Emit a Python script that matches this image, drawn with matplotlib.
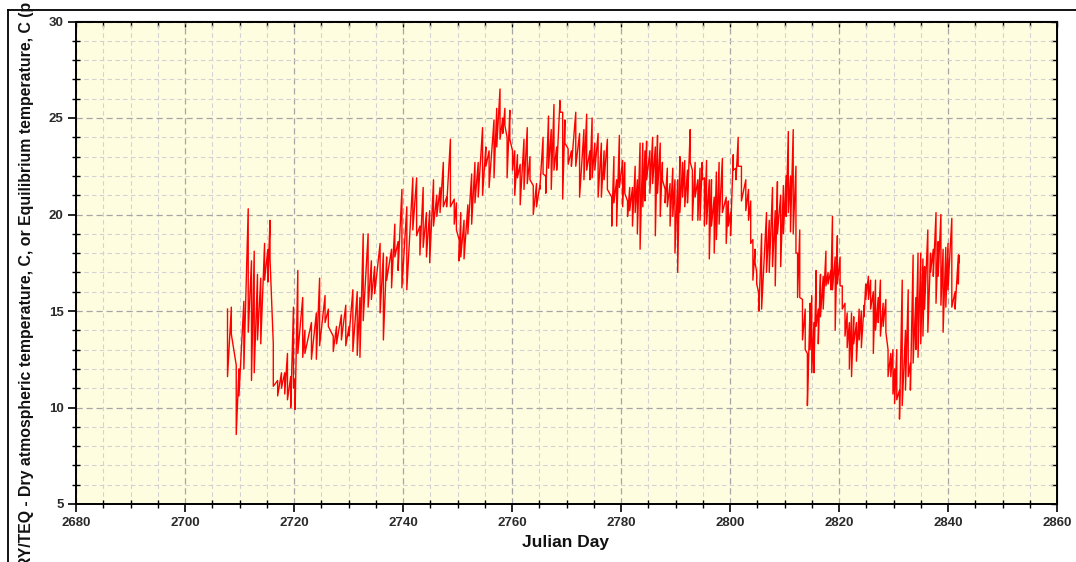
import numpy as np
import matplotlib
matplotlib.use('Agg')
import matplotlib.pyplot as plt
from matplotlib.ticker import MultipleLocator
from matplotlib.lines import Line2D

# readings: day, upper and lower end of each vertical stroke
day = [2707.8, 2708.5, 2709.4, 2709.9, 2710.8, 2711.6, 2712.2, 2712.7, 2713.3, 2713.9,
       2714.6, 2715.2, 2715.6, 2716.2, 2717.0, 2717.7, 2718.3, 2718.8, 2719.4, 2719.9,
       2720.2, 2720.7, 2721.6, 2722.0, 2723.2, 2724.1, 2724.7, 2725.7, 2726.3, 2727.2,
       2727.8, 2728.7, 2729.5, 2730.1, 2730.8, 2731.6, 2732.1, 2732.7, 2733.6, 2734.2,
       2734.8, 2735.8, 2736.4, 2737.0, 2737.9, 2738.5, 2739.1, 2739.8, 2740.7, 2741.8,
       2742.5, 2743.1, 2743.7, 2744.3, 2744.9, 2745.6, 2746.2, 2746.8, 2747.4, 2748.0,
       2748.7, 2749.4, 2749.8, 2750.3, 2750.6, 2751.2, 2751.9, 2752.6, 2753.2, 2753.8,
       2754.6, 2755.2, 2755.8, 2756.7, 2757.2, 2757.8, 2758.3, 2758.7, 2759.1, 2759.6,
       2760.1, 2760.5, 2761.0, 2761.5, 2762.2, 2762.8, 2763.3, 2763.9, 2764.5, 2765.1,
       2765.7, 2766.2, 2766.7, 2767.2, 2767.7, 2768.2, 2768.8, 2769.3, 2769.7, 2770.3,
       2770.9, 2771.7, 2772.4, 2773.2, 2773.7, 2774.3, 2774.7, 2775.2, 2775.8, 2776.4,
       2776.9, 2777.5, 2778.3, 2778.7, 2779.2, 2779.7, 2780.3, 2780.7, 2781.2, 2781.6,
       2782.1, 2782.6, 2783.0, 2783.5, 2784.0, 2784.4, 2784.7, 2785.3, 2785.8, 2786.3,
       2786.7, 2787.2, 2787.6, 2788.1, 2788.5, 2789.0, 2789.5, 2789.9, 2790.4, 2790.8,
       2791.3, 2791.7, 2792.2, 2792.7, 2793.1, 2793.6, 2794.1, 2794.5, 2794.9, 2795.3,
       2795.7, 2796.2, 2796.6, 2797.1, 2797.5, 2798.0, 2798.6, 2799.3, 2799.7, 2800.1,
       2800.6, 2801.1, 2801.5, 2802.1, 2802.9, 2803.4, 2803.8, 2804.2, 2804.6, 2804.9,
       2805.3, 2805.8, 2806.7, 2807.2, 2807.8, 2808.3, 2808.7, 2809.3, 2809.8, 2810.3,
       2810.7, 2811.1, 2811.6, 2812.1, 2812.4, 2812.8, 2813.3, 2813.8, 2814.2, 2814.7,
       2815.0, 2815.4, 2815.8, 2816.2, 2816.6, 2817.1, 2817.6, 2818.0, 2818.5, 2818.8,
       2819.3, 2819.7, 2820.2, 2820.6, 2821.1, 2821.5, 2821.9, 2822.3, 2822.7, 2823.2,
       2823.7, 2824.1, 2824.6, 2824.9, 2825.4, 2825.8, 2826.3, 2826.7, 2827.2, 2827.6,
       2828.1, 2828.6, 2829.0, 2829.5, 2829.9, 2830.2, 2830.6, 2831.1, 2831.6, 2832.2,
       2832.7, 2833.1, 2833.6, 2834.1, 2834.5, 2835.0, 2835.4, 2835.7, 2836.3, 2836.8,
       2837.3, 2837.8, 2838.2, 2838.7, 2839.1, 2839.6, 2840.0, 2840.7, 2841.3, 2841.9,
       2842.0]
t_high = [15.1, 15.2, 12.2, 12.0, 15.5, 20.3, 17.6, 18.1, 16.9, 16.7,
          18.5, 18.2, 19.7, 13.3, 11.4, 11.8, 11.8, 12.8, 11.6, 15.2,
          11.5, 17.1, 15.7, 14.0, 14.4, 14.9, 16.7, 15.8, 15.1, 13.7,
          14.2, 14.8, 15.3, 14.2, 16.1, 16.0, 15.7, 19.0, 19.0, 17.6,
          17.3, 18.5, 18.0, 17.8, 18.2, 19.5, 18.6, 21.3, 20.4, 21.9,
          21.9, 19.4, 21.4, 20.1, 20.2, 21.8, 21.0, 21.4, 22.7, 20.9,
          23.9, 20.8, 20.6, 18.7, 20.1, 19.7, 20.5, 22.1, 22.7, 22.7,
          24.5, 23.5, 23.3, 24.9, 25.5, 26.5, 25.0, 25.5, 24.0, 25.4,
          23.3, 23.3, 23.1, 22.6, 23.9, 24.5, 23.0, 21.5, 21.6, 21.5,
          24.0, 22.0, 25.1, 24.4, 25.7, 23.5, 25.9, 25.3, 24.9, 23.4,
          23.3, 25.3, 24.2, 24.4, 25.2, 23.3, 25.0, 23.7, 24.2, 23.7,
          23.3, 23.9, 20.9, 23.0, 21.8, 24.1, 22.8, 22.7, 20.7, 21.4,
          21.4, 22.5, 21.8, 23.7, 23.7, 23.3, 23.8, 23.3, 24.0, 23.5,
          24.1, 23.7, 22.7, 21.3, 22.4, 21.6, 22.4, 21.8, 21.8, 23.0,
          22.7, 22.8, 22.3, 24.4, 22.3, 22.7, 21.8, 22.4, 22.7, 21.9,
          22.8, 21.8, 21.8, 20.9, 22.2, 22.7, 22.9, 20.9, 20.7, 20.1,
          23.1, 22.4, 24.0, 22.5, 21.8, 21.3, 20.7, 18.7, 18.2, 17.0,
          15.9, 19.0, 20.1, 19.7, 21.4, 20.2, 21.7, 21.0, 21.5, 22.0,
          24.3, 22.0, 24.4, 22.5, 18.0, 19.2, 15.6, 15.1, 12.8, 15.4,
          15.8, 14.4, 17.1, 15.1, 16.9, 16.8, 18.1, 17.0, 17.1, 19.9,
          17.8, 18.9, 17.8, 16.3, 15.4, 14.9, 14.4, 14.9, 14.7, 14.4,
          15.1, 15.0, 15.3, 16.4, 16.8, 16.6, 16.0, 16.6, 15.7, 16.6,
          15.4, 15.6, 13.0, 12.8, 13.0, 12.0, 13.0, 10.9, 16.6, 14.0,
          16.1, 12.3, 17.9, 15.7, 18.0, 18.0, 17.7, 17.3, 19.2, 18.0,
          18.2, 20.1, 18.6, 20.0, 18.2, 18.3, 18.5, 19.8, 16.0, 17.9,
          17.9]
t_low = [11.6, 13.8, 8.6, 10.6, 12.0, 13.9, 11.4, 11.8, 13.5, 13.3,
         16.6, 16.5, 17.7, 11.1, 10.6, 11.0, 10.7, 10.4, 10.0, 11.0,
         9.9, 12.8, 12.6, 12.8, 12.5, 12.5, 13.2, 14.4, 14.2, 12.9,
         13.3, 13.5, 13.2, 13.7, 12.9, 12.7, 12.6, 14.5, 15.2, 15.6,
         15.9, 14.9, 13.5, 16.6, 16.2, 17.8, 17.1, 16.2, 16.1, 19.2,
         18.9, 17.9, 18.3, 17.8, 17.5, 19.4, 19.9, 20.1, 20.4, 20.4,
         20.4, 19.5, 19.2, 17.6, 17.8, 17.7, 19.0, 19.5, 20.6, 20.9,
         21.0, 22.5, 21.4, 21.9, 23.5, 23.9, 24.2, 24.6, 21.9, 23.9,
         22.3, 21.0, 21.9, 20.5, 21.3, 21.6, 21.8, 20.0, 20.4, 21.3,
         22.1, 21.1, 22.4, 21.3, 22.3, 22.3, 25.3, 20.8, 23.7, 22.6,
         22.5, 22.5, 20.9, 21.8, 22.3, 21.8, 21.9, 22.3, 20.9, 20.9,
         21.8, 21.3, 19.4, 20.6, 19.4, 21.4, 20.4, 21.1, 19.9, 20.2,
         19.4, 20.1, 19.0, 18.2, 20.4, 20.7, 21.8, 21.1, 21.6, 18.9,
         21.1, 19.9, 21.8, 20.6, 20.4, 19.4, 19.9, 18.0, 17.0, 20.1,
         20.9, 20.4, 20.6, 22.7, 19.7, 20.9, 19.7, 19.7, 21.8, 19.4,
         19.5, 17.7, 19.4, 18.0, 18.7, 19.5, 20.1, 18.5, 19.4, 18.9,
         22.3, 21.8, 22.5, 20.7, 20.2, 19.7, 18.5, 16.6, 17.5, 16.4,
         15.0, 15.1, 17.0, 17.0, 17.3, 16.3, 19.0, 17.3, 19.0, 19.9,
         20.1, 19.1, 19.0, 18.0, 15.7, 15.7, 13.5, 13.0, 10.1, 13.0,
         11.8, 11.8, 14.2, 13.3, 14.7, 15.1, 16.3, 16.4, 16.1, 16.1,
         14.0, 16.4, 16.3, 15.1, 13.7, 13.1, 12.0, 11.6, 13.3, 12.4,
         13.5, 13.1, 14.7, 15.6, 15.6, 15.1, 12.8, 14.0, 14.4, 13.7,
         14.2, 13.9, 11.6, 11.6, 10.7, 10.2, 10.4, 9.4, 10.1, 10.9,
         11.6, 10.9, 12.3, 13.0, 12.6, 13.3, 13.7, 15.1, 13.9, 17.0,
         16.8, 15.4, 16.8, 15.3, 13.9, 15.2, 16.1, 15.2, 15.1, 16.4,
         17.5]

x_ticks = [2680, 2700, 2720, 2740, 2760, 2780, 2800, 2820, 2840, 2860]
y_ticks = [5, 10, 15, 20, 25, 30]

ylabel = 'RY/TEQ - Dry atmospheric temperature, C, or Equilibrium temperature, C (p'
xlabel = 'Julian Day'

plt.rcParams['font.family'] = ['Liberation Sans', 'DejaVu Sans']

fig = plt.figure(figsize=(10.76, 5.62), dpi=100)
ax = fig.add_axes([76 / 1076, 1 - 504 / 562, 981 / 1076, 482.5 / 562])
ax.set_facecolor('#fffde0')

# each reading is drawn as a vertical stroke, joined to the next one
xs = np.repeat(day, 2)
ys = np.column_stack([t_high, t_low]).ravel()
ax.plot(xs, ys, color='#ff0000', lw=1.0, zorder=3)

ax.set_xlim(x_ticks[0], x_ticks[-1])
ax.set_ylim(y_ticks[0], y_ticks[-1])
ax.set_xticks(x_ticks)
ax.set_yticks(y_ticks)
ax.xaxis.set_minor_locator(MultipleLocator(5))
ax.yaxis.set_minor_locator(MultipleLocator(1))

ax.grid(which='major', color='#a6a6a6', ls=(0, (5, 3)), lw=0.9)
ax.grid(which='minor', color='#d2d2d2', ls=(0, (4, 3)), lw=0.8)
ax.set_axisbelow(True)

for s in ax.spines.values():
    s.set_linewidth(1.4)
    s.set_color('black')

ax.tick_params(which='major', direction='out', length=6, width=1.2, labelsize=9.5,
               labelcolor='#2a2a2a', pad=3)
ax.tick_params(which='minor', direction='inout', length=6, width=1.0)
for lab in ax.get_xticklabels() + ax.get_yticklabels():
    lab.set_fontweight('bold')

# inward ticks along top and right
top = ax.secondary_xaxis('top')
top.set_xticks(x_ticks)
top.xaxis.set_minor_locator(MultipleLocator(5))
top.tick_params(which='both', direction='in', length=4, width=1.0, labeltop=False)
right = ax.secondary_yaxis('right')
right.set_yticks(y_ticks)
right.yaxis.set_minor_locator(MultipleLocator(1))
right.tick_params(which='both', direction='in', length=4, width=1.0, labelright=False)

fig.text(566 / 1076, 1 - 543 / 562, xlabel, ha='center', va='center',
         fontsize=12.5, fontweight='bold', color='#111111')
fig.text(27 / 1076, 1 - 568 / 562, ylabel, rotation=90, rotation_mode='anchor',
         ha='left', va='center', fontsize=11.4, fontweight='bold', color='#111111')

# outer frame of the original window
fig.add_artist(Line2D([8 / 1076, 1.0], [1 - 10 / 562] * 2, transform=fig.transFigure,
                      color='black', lw=1.3))
fig.add_artist(Line2D([8 / 1076] * 2, [0, 1 - 10 / 562], transform=fig.transFigure,
                      color='black', lw=1.3))

fig.savefig('out.png', dpi=100)
